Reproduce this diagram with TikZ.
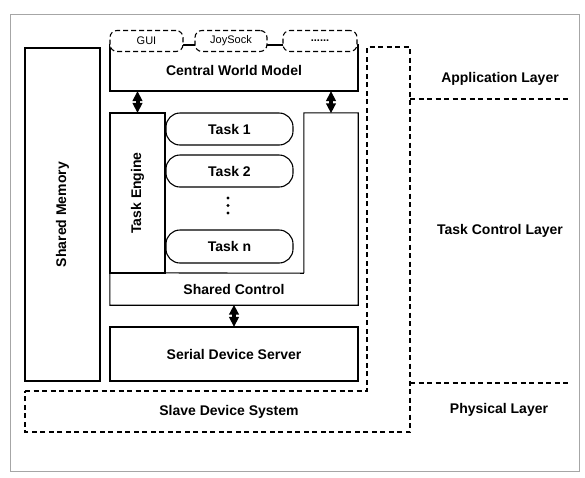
\documentclass[tikz,border=0pt]{standalone}
\usepackage{fontspec}
\setmainfont{Liberation Sans}
\usetikzlibrary{arrows.meta,calc}

\tikzset{
  box/.style={draw, line width=1.1pt, inner sep=0pt, font=\bfseries\fontsize{14}{16}\selectfont},
  hidden/.style={inner sep=0pt},
  taskbox/.style={draw, line width=1.1pt, rounded corners=14pt, inner sep=0pt,
    minimum width=127pt, minimum height=32pt, font=\bfseries\fontsize{14}{16}\selectfont},
  cloudbox/.style={draw, line width=1.1pt, dash pattern=on 5pt off 3pt, rounded corners=7pt,
    fill=white, inner sep=0pt, minimum height=21pt, font=\fontsize{11}{13}\selectfont},
  layerline/.style={line width=1.1pt, dash pattern=on 5pt off 3.5pt},
  label/.style={inner sep=0pt, font=\bfseries\fontsize{14}{16}\selectfont},
  link/.style={{Triangle[length=10pt,width=9.5pt]}-{Triangle[length=10pt,width=9.5pt]}, line width=4pt, shorten <=-0.5pt, shorten >=-0.5pt},
  dotmark/.style={circle, fill=black, inner sep=0pt, minimum size=3.4pt}
}

\begin{document}
\begin{tikzpicture}[x=1pt, y=-1pt]
  \useasboundingbox (0,0) rectangle (585,477);

  % outer frame
  \draw[gray!70, line width=0.6pt] (10,14) rectangle (579,471);

  % shared memory column
  \node[box, minimum width=75pt, minimum height=333pt] (smem) at (62.5,214.5)
    {\rotatebox{90}{Shared Memory}};

  % central world model with its front-ends
  \node[box, minimum width=248pt, minimum height=46pt] (cwm) at (234,68) {};
  \node[label] (cwmtext) at (234,70) {Central World Model};
  \node[cloudbox, minimum width=73pt] (gui) at (146.5,41) {GUI};
  \node[cloudbox, minimum width=72pt] (joy) at (231,41) {JoySock};
  \node[cloudbox, minimum width=74pt, font=\bfseries\fontsize{11}{13}\selectfont] (more) at (320,41) {......};

  % task control block
  \node[box, minimum width=55pt, minimum height=160pt] (te) at (137.5,193)
    {\rotatebox{90}{Task Engine}};
  \node[hidden, minimum width=54pt, minimum height=160pt] (rcol) at (331,193) {};
  \node[hidden, minimum width=248pt, minimum height=32pt] (sc) at (234,289) {};
  \node[label] (sctext) at (234,289) {Shared Control};
  \draw[line width=1.1pt] (rcol.south west) -- (rcol.north west) -- (rcol.north east)
    -- (sc.south east) -- (sc.south west) -- (sc.north west) -- (rcol.south west);

  \node[taskbox] (t1) at (229.5,129) {Task 1};
  \node[taskbox] (t2) at (229.5,171) {Task 2};
  \node[taskbox, minimum height=33pt] (tn) at (229.5,246.5) {Task n};
  \node[dotmark] (d1) at (228,198) {};
  \node[dotmark] (d2) at (228,205.5) {};
  \node[dotmark] (d3) at (228,213) {};

  % serial device server
  \node[box, minimum width=248pt, minimum height=54pt] (ssrv) at (234,354) {Serial Device Server};

  % links between blocks
  \draw[link] (te.north |- cwm.south) -- (te.north);
  \draw[link] (rcol.north |- cwm.south) -- (rcol.north);
  \draw[link] (sc.south) -- (sc.south |- ssrv.north);

  % slave device system outline
  \coordinate (s1) at (25,391);
  \coordinate (s2) at (367,391);
  \coordinate (s3) at (367,47);
  \coordinate (s4) at (410,47);
  \coordinate (s5) at (410,432);
  \coordinate (s6) at (25,432);
  \draw[layerline] (s1) -- (s2) -- (s3) -- (s4) -- (s5) -- (s6) -- cycle;
  \node[label] (slave) at (229,412) {Slave Device System};

  % layer boundaries and names
  \coordinate (la) at (410,99);
  \coordinate (lb) at (570,99);
  \coordinate (lc) at (410,383);
  \coordinate (ld) at (570,383);
  \draw[layerline] (la) -- (lb);
  \draw[layerline] (lc) -- (ld);
  \node[label] (app) at (500,79) {Application Layer};
  \node[label] (tcl) at (500,231) {Task Control Layer};
  \node[label] (phy) at (499,410) {Physical Layer};
\end{tikzpicture}
\end{document}
